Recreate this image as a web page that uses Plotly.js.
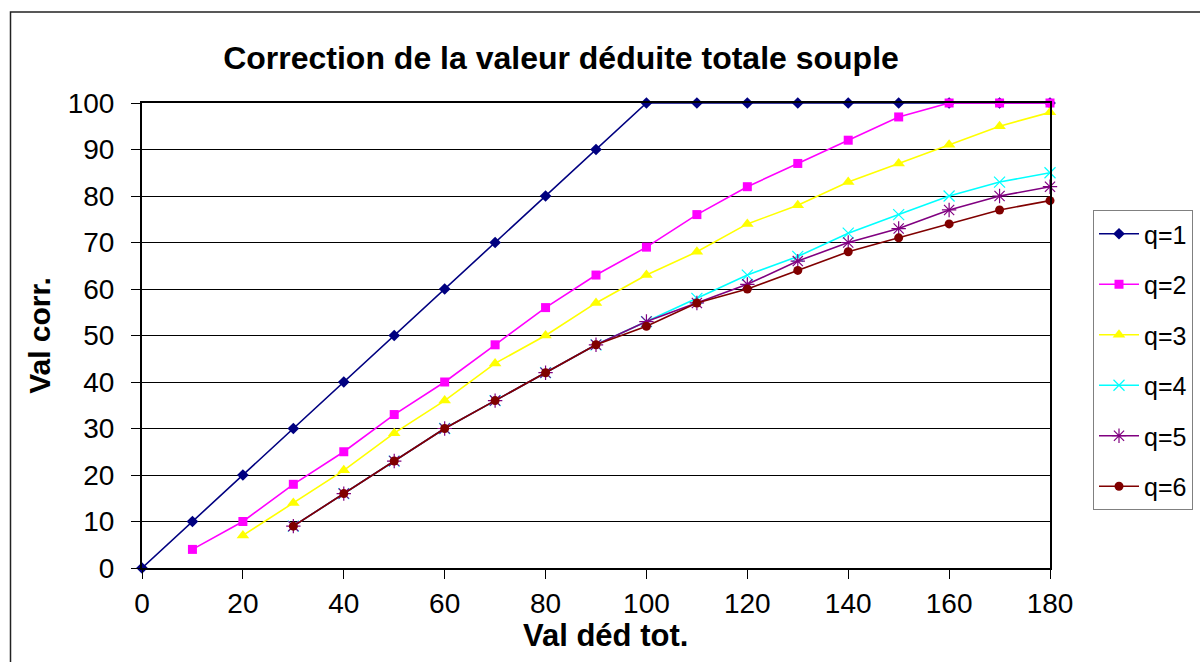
<!DOCTYPE html>
<html>
<head>
<meta charset="utf-8">
<script src="https://cdn.plot.ly/plotly-3.0.1.min.js"></script>
<style>
html,body{margin:0;padding:0;background:#fff;}
#chart{width:1200px;height:662px;}
</style>
</head>
<body>
<div id="chart"></div>
<script>
// ---- data ----
const seriesNames = ["q=1", "q=2", "q=3", "q=4", "q=5", "q=6"];
const x_q1 = [0,10,20,30,40,50,60,70,80,90,100,110,120,130,140,150,160,170,180];
const y_q1 = [0,10,20,30,40,50,60,70,80,90,100,100,100,100,100,100,100,100,100];
const x_q2 = [10,20,30,40,50,60,70,80,90,100,110,120,130,140,150,160,170,180];
const y_q2 = [4,10,18,25,33,40,48,56,63,69,76,82,87,92,97,100,100,100];
const x_q3 = [20,30,40,50,60,70,80,90,100,110,120,130,140,150,160,170,180];
const y_q3 = [7,14,21,29,36,44,50,57,63,68,74,78,83,87,91,95,98];
const x_q4 = [30,40,50,60,70,80,90,100,110,120,130,140,150,160,170,180];
const y_q4 = [9,16,23,30,36,42,48,53,58,63,67,72,76,80,83,85];
const x_q5 = [30,40,50,60,70,80,90,100,110,120,130,140,150,160,170,180];
const y_q5 = [9,16,23,30,36,42,48,53,57,61,66,70,73,77,80,82];
const x_q6 = [30,40,50,60,70,80,90,100,110,120,130,140,150,160,170,180];
const y_q6 = [9,16,23,30,36,42,48,52,57,60,64,68,71,74,77,79];
const xTickVals = [0,20,40,60,80,100,120,140,160,180];
const yTickVals = [0,10,20,30,40,50,60,70,80,90,100];

// ---- styles ----
const xs = [x_q1, x_q2, x_q3, x_q4, x_q5, x_q6];
const ys = [y_q1, y_q2, y_q3, y_q4, y_q5, y_q6];
const colors = ["#000080", "#FF00FF", "#FFFF00", "#00FFFF", "#800080", "#800000"];
const symbols = ["diamond", "square", "triangle-up", "x-thin-open", "asterisk-open", "circle"];
const sizes = [9, 9, 11, 11, 12, 9];

const FONT = "Liberation Sans, Arial, sans-serif";

const traces = seriesNames.map((name, i) => ({
  type: "scatter",
  mode: "lines+markers",
  name: name,
  x: xs[i],
  y: ys[i],
  legendgroup: "g" + i,
  cliponaxis: false,
  line: {color: colors[i], width: 1.6},
  marker: {
    symbol: symbols[i],
    size: sizes[i],
    color: colors[i],
    line: {color: colors[i], width: (symbols[i].indexOf("open") >= 0) ? 1.2 : 0}
  }
}));

const L = 142, R = 1050, T = 103, B = 568;
const pw = R - L, ph = B - T;
function px2x(p){ return (p - L) / pw; }
function py2y(p){ return (B - p) / ph; }

const layout = {
  width: 1200,
  height: 662,
  margin: {l: L, r: 1200 - R, t: T, b: 662 - B, pad: 0},
  paper_bgcolor: "#ffffff",
  plot_bgcolor: "#ffffff",
  font: {family: FONT, color: "#000"},
  showlegend: true,
  title: {
    text: "<b>Correction de la valeur déduite totale souple</b>",
    font: {family: FONT, size: 32, color: "#000"},
    xref: "container", x: 561 / 1200, xanchor: "center",
    yref: "container", y: 1 - 58 / 662, yanchor: "middle"
  },
  xaxis: {
    range: [0, 180],
    tickvals: xTickVals,
    ticktext: xTickVals.map(String),
    ticks: "outside", ticklen: 9, tickwidth: 1, tickcolor: "#000",
    tickfont: {family: FONT, size: 28, color: "#000"},
    showline: true, linecolor: "#000", linewidth: 2, mirror: true,
    showgrid: false, zeroline: false,
    title: {text: "", font: {family: FONT, size: 31, color: "#000"}}
  },
  yaxis: {
    range: [0, 100],
    tickvals: yTickVals,
    ticktext: yTickVals.map(String),
    ticks: "outside", ticklen: 9, tickwidth: 1, tickcolor: "#000",
    tickfont: {family: FONT, size: 28, color: "#000"},
    ticklabelstandoff: 11,
    showline: true, linecolor: "#000", linewidth: 2, mirror: true,
    showgrid: true, gridcolor: "#000", gridwidth: 1, zeroline: false,
    title: {text: "<b>Val corr.</b>", font: {family: FONT, size: 30, color: "#000"}, standoff: 8}
  },
  annotations: [
    {
      text: "<b>Val déd tot.</b>",
      xref: "paper", yref: "paper",
      x: px2x(605), y: py2y(635),
      xanchor: "center", yanchor: "middle",
      showarrow: false,
      font: {family: FONT, size: 31, color: "#000"}
    }
  ],
  legend: {
    xref: "container", yref: "container",
    x: 1093 / 1200, xanchor: "left",
    y: 1 - 210 / 662, yanchor: "top",
    bgcolor: "#ffffff",
    bordercolor: "#808080", borderwidth: 1,
    font: {family: FONT, size: 25, color: "#000"},
    tracegroupgap: 15,
    itemwidth: 40
  },
  shapes: [
    {
      type: "path", xref: "paper", yref: "paper",
      path: "M " + px2x(1215) + " " + py2y(12) + " L " + px2x(10.5) + " " + py2y(12) + " L " + px2x(10.5) + " " + py2y(680),
      line: {color: "#222", width: 1.5}
    }
  ]
};

Plotly.newPlot("chart", traces, layout, {displayModeBar: false, staticPlot: true});
</script>
</body>
</html>
